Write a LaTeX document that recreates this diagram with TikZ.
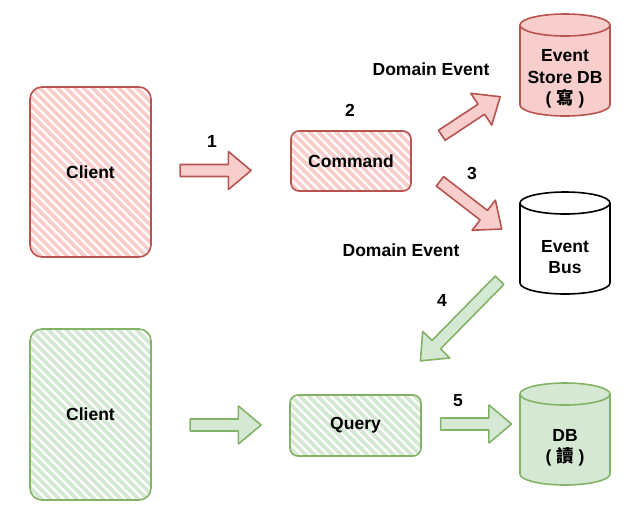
\documentclass[tikz,border=0pt]{standalone}
\usepackage{fontspec}
\setmainfont{Liberation Sans}
\newfontfamily\cjk{Noto Sans CJK TC}
\usetikzlibrary{shapes.arrows}
\definecolor{cmdfill}{HTML}{F8CECC}
\definecolor{cmdedge}{HTML}{B85450}
\definecolor{qryfill}{HTML}{D5E8D4}
\definecolor{qryedge}{HTML}{82B366}

\begin{document}
\begin{tikzpicture}[
  x=1pt,
  y=-1pt,
  line join=round,
  font=\bfseries\fontsize{17.5}{21.5}\selectfont,
  hatch/.style={path picture={
    \foreach \k in {-24,...,18}
      \draw[#1,line width=3.8pt] ([xshift=\k*8.8pt]path picture bounding box.north west) -- ++(230pt,-230pt);
  }},
  box/.style={rectangle,rounded corners=#1,line width=1.6pt,align=center,inner sep=0pt},
  flowarrow/.style={single arrow,line width=1.6pt,minimum width=38,single arrow head extend=13,
    single arrow tip angle=80,inner sep=5.2},
  redarrow/.style={flowarrow,fill=cmdfill,draw=cmdedge},
  greenarrow/.style={flowarrow,fill=qryfill,draw=qryedge},
  % cylinder hangs from the top of the node, text sits low in its body
  store/.style 2 args={rectangle,minimum width=92,minimum height=132,align=center,inner sep=0pt,
    path picture={
      \filldraw[draw=#1,fill=#2,line width=1.6pt]
        ([shift={(1pt,-12pt)}]path picture bounding box.north west)
        -- ([shift={(1pt,-92pt)}]path picture bounding box.north west)
        arc[start angle=180,end angle=360,x radius=45pt,y radius=11pt]
        -- ([shift={(-1pt,-12pt)}]path picture bounding box.north east)
        arc[start angle=0,end angle=180,x radius=45pt,y radius=11pt] -- cycle;
      \draw[draw=#1,line width=1.6pt]
        ([shift={(1pt,-12pt)}]path picture bounding box.north west)
        arc[start angle=180,end angle=360,x radius=45pt,y radius=11pt];
  }},
  numlbl/.style={inner sep=0pt}
]
  \useasboundingbox (0,0) rectangle (630,520);

  % Write side (command).
  \node[box=12pt,draw=cmdedge,hatch=cmdfill,minimum width=121,minimum height=170] (wclient) at (90.5,172) {Client};
  \node[box=8pt,draw=cmdedge,hatch=cmdfill,minimum width=120,minimum height=60] (command) at (351,161) {Command};
  \node[store={cmdedge}{cmdfill}] (evstore) at (565,79) {Event\\Store DB\\( {\cjk 寫} )};
  \node[store={black}{white}] (evbus) at (565,257) {Event\\Bus};

  % Read side (query).
  \node[box=12pt,draw=qryedge,hatch=qryfill,minimum width=121,minimum height=171] (rclient) at (90.5,414.5) {Client};
  \node[box=8pt,draw=qryedge,hatch=qryfill,minimum width=131,minimum height=61] (query) at (355.5,425.5) {Query};
  \node[store={qryedge}{qryfill}] (readdb) at (565,448) {DB\\( {\cjk 讀} )};

  % Block arrows between the parts.
  \node[redarrow,minimum height=71] (arr1) at (212,170.5) {};
  \node[redarrow,minimum height=70,rotate=33.5] (arr2) at (468,118) {};
  \node[redarrow,minimum height=78,rotate=-37.7] (arr3) at (468,203) {};
  \node[greenarrow,minimum height=113,rotate=225.5] (arr4) at (462.5,318) {};
  \node[greenarrow,minimum height=71] (arrq) at (222,425) {};
  \node[greenarrow,minimum height=71] (arr5) at (472.5,424) {};

  % Step numbers and event labels.
  \node[numlbl] (n1) at (212,141) {1};
  \node[numlbl] (n2) at (350,110) {2};
  \node[numlbl] (n3) at (472,173) {3};
  \node[numlbl] (n4) at (442,300) {4};
  \node[numlbl] (n5) at (458,401) {5};
  \node[numlbl] (ev1) at (431,69) {Domain Event};
  \node[numlbl] (ev2) at (401,250) {Domain Event};
\end{tikzpicture}
\end{document}
